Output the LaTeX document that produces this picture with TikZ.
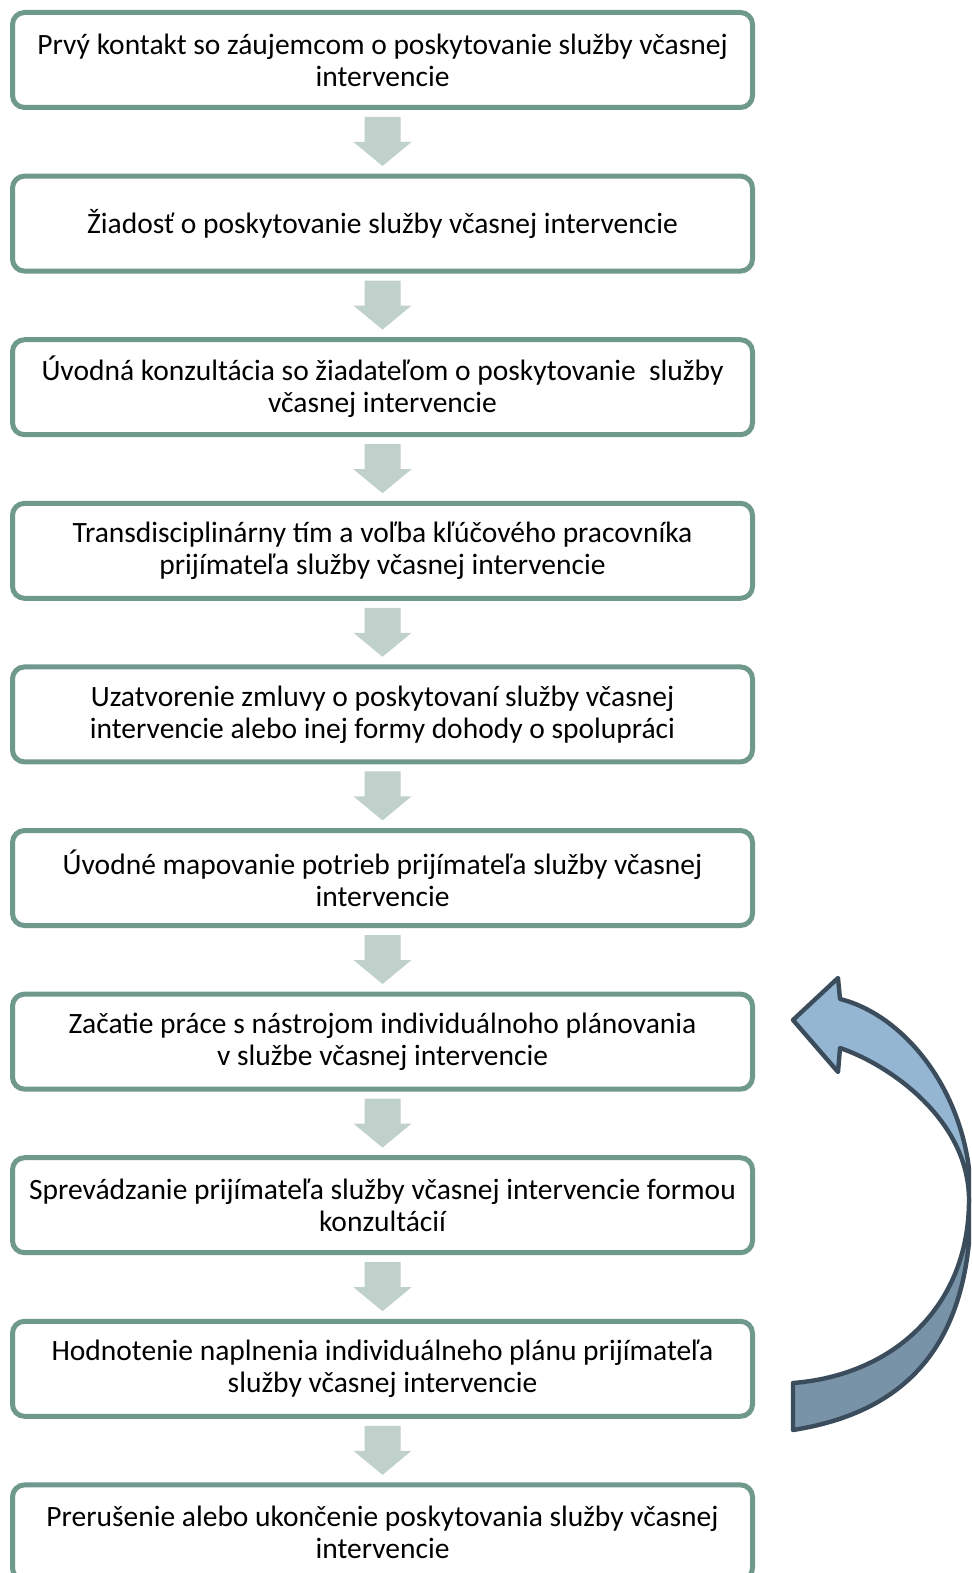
\documentclass[tikz,border=0pt]{standalone}
\usepackage{fontspec}
\setmainfont{Carlito}
\usetikzlibrary{calc}
\definecolor{boxline}{RGB}{112,153,142}
\definecolor{steparrow}{RGB}{192,208,203}
\definecolor{looplight}{RGB}{148,182,210}
\definecolor{loopdark}{RGB}{120,146,168}
\definecolor{loopline}{RGB}{59,77,92}

\begin{document}
\begin{tikzpicture}[x=0.5pt, y=-0.5pt, font=\fontsize{14.75}{16}\selectfont,
  stepbox/.style={draw=boxline, line width=2.5pt, rounded corners=6pt, fill=white,
    minimum width=370pt, minimum height=47.5pt, align=center, inner sep=0pt},
  loopshape/.style={draw=loopline, line width=2.2pt, line join=round}]
  \useasboundingbox (0,0) rectangle (971,1573);
  \clip (0,0) rectangle (971,1573);
  % Steps
  \node[stepbox] (s1) at (382.5,60) {Prvý kontakt so záujemcom o poskytovanie služby včasnej\\intervencie};
  \node[stepbox] (s2) at (382.5,223.6) {Žiadosť o poskytovanie služby včasnej intervencie};
  \node[stepbox] (s3) at (382.5,387.2) {Úvodná konzultácia so žiadateľom o poskytovanie~ služby\\včasnej intervencie};
  \node[stepbox] (s4) at (382.5,550.8) {Transdisciplinárny tím a voľba kľúčového pracovníka\\prijímateľa služby včasnej intervencie};
  \node[stepbox] (s5) at (382.5,714.4) {Uzatvorenie zmluvy o poskytovaní služby včasnej\\intervencie alebo inej formy dohody o spolupráci};
  \node[stepbox] (s6) at (382.5,878) {Úvodné mapovanie potrieb prijímateľa služby včasnej\\intervencie};
  \node[stepbox] (s7) at (382.5,1041.6) {Začatie práce s nástrojom individuálnoho plánovania\\v službe včasnej intervencie};
  \node[stepbox] (s8) at (382.5,1205.2) {Sprevádzanie prijímateľa služby včasnej intervencie formou\\konzultácií};
  \node[stepbox] (s9) at (382.5,1368.8) {Hodnotenie naplnenia individuálneho plánu prijímateľa\\služby včasnej intervencie};
  \node[stepbox] (s10) at (382.5,1532.4) {Prerušenie alebo ukončenie poskytovania služby včasnej\\intervencie};
  % Arrows between steps
  \foreach \a/\b in {s1/s2, s2/s3, s3/s4, s4/s5, s5/s6, s6/s7, s7/s8, s8/s9, s9/s10} {
    \coordinate (mid) at ($(\a.south)!0.5!(\b.north)$);
    \fill[steparrow] ($(mid)+(-18,-24.8)$) -- ($(mid)+(18,-24.8)$) -- ($(mid)+(18,0.2)$)
      -- ($(mid)+(29,0.2)$) -- ($(mid)+(0,24.2)$) -- ($(mid)+(-29,0.2)$) -- ($(mid)+(-18,0.2)$) -- cycle;
  }
  % Loop back arrow
  \filldraw[loopshape, fill=loopdark]
    (971,1200) .. controls (971,1330) and (920,1410) .. (793,1430)
    -- (793,1383) .. controls (895,1375) and (969,1305) .. (969,1200) -- cycle;
  \filldraw[loopshape, fill=looplight]
    (971,1200) .. controls (971,1095) and (905,1015) .. (840,999)
    -- (838,978) -- (793,1020) -- (838,1072) -- (840,1048)
    .. controls (890,1065) and (969,1120) .. (969,1200) -- cycle;
\end{tikzpicture}
\end{document}
